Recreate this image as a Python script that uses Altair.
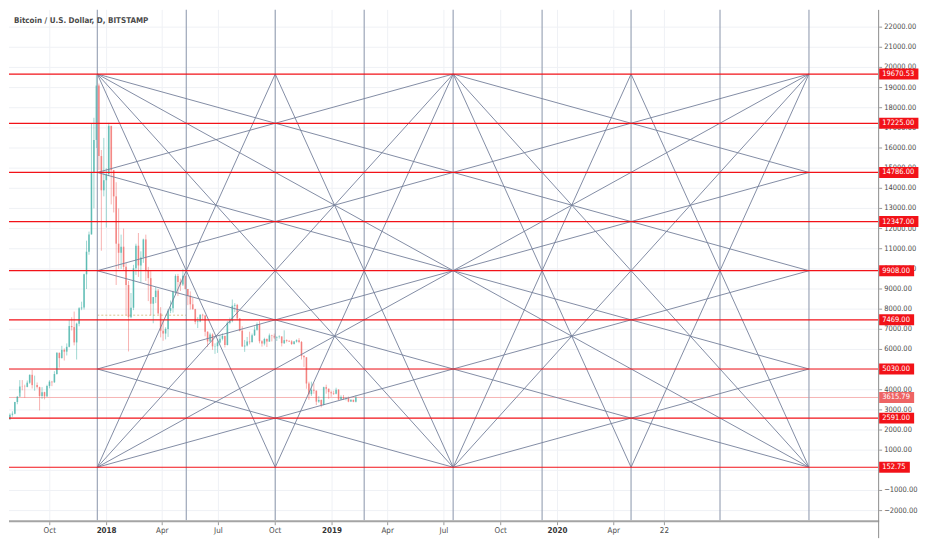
import altair as alt
import pandas as pd

# ---------------- data ----------------
title_text = "Bitcoin / U.S. Dollar, D, BITSTAMP"

# 4-day candles starting 2017-07-27 (open of first candle, then close/high/low per candle)
candle_start = "2017-07-27"
candle_days = 4
first_open = 2530
closes = [2760, 2810, 3390, 3650, 4160, 4150, 4140, 4350, 4740, 4230,
          4230, 4130, 3690, 3880, 3670, 4190, 4400, 4370, 4780, 5830,
          5570, 5980, 5890, 6130, 7160, 7110, 6350, 7280, 8040, 8080,
          9730, 10850, 11710, 14800, 16400, 19100, 15600, 13900, 14400, 14700,
          17100, 14900, 13600, 11250, 10800, 11100, 10100, 9200, 7600, 8070,
          10030, 11150, 10170, 10570, 11460, 9910, 9540, 8270, 8600, 8920,
          7790, 6930, 6790, 7020, 7920, 8050, 8860, 9650, 9350, 9220,
          9660, 9000, 8670, 8240, 8000, 7360, 7390, 7720, 7690, 6880,
          6400, 6740, 6150, 6160, 6350, 6530, 6670, 6220, 7320, 7410,
          8170, 8210, 7540, 6930, 6150, 6190, 6390, 6360, 6700, 6980,
          7260, 6410, 6290, 6520, 6390, 6700, 6680, 6590, 6620, 6640,
          6310, 6460, 6420, 6400, 6270, 6390, 6460, 6370, 5680, 5610,
          4310, 3780, 4000, 3950, 3410, 3490, 3240, 4130, 4050, 3880,
          3830, 3800, 4000, 3510, 3640, 3560, 3580, 3410, 3500, 3400,
          3615.79]
highs = [2830, 2930, 3400, 3690, 4480, 4480, 4250, 4460, 4760, 4980,
         4700, 4360, 4150, 4130, 3900, 4250, 4470, 4440, 4920, 5860,
         5850, 6180, 6050, 6300, 7460, 7600, 7880, 7330, 8100, 8370,
         9760, 11400, 11850, 17200, 17500, 19666, 19200, 15900, 16500, 15000,
         17250, 17100, 14900, 14300, 13000, 11700, 12000, 10300, 9400, 8800,
         10200, 11250, 11780, 10870, 11500, 11700, 10100, 9900, 8600, 9100,
         9000, 8100, 7500, 7100, 8000, 8430, 8920, 9730, 9750, 9520,
         9990, 9650, 9000, 8880, 8580, 8020, 7600, 7750, 7770, 7700,
         6900, 6830, 6800, 6300, 6520, 6700, 6800, 6690, 7400, 7580,
         8480, 8300, 8260, 7560, 7150, 6470, 6620, 6880, 6790, 7140,
         7340, 7410, 6460, 6580, 6550, 6790, 6730, 6790, 6650, 6700,
         6660, 6950, 6500, 6470, 6460, 6420, 6500, 6560, 6420, 5720,
         5620, 4400, 4400, 4320, 3970, 3680, 3520, 4150, 4250, 4060,
         3960, 3950, 4100, 4030, 3720, 3740, 3640, 3660, 3520, 3510,
         3720]
lows = [2500, 2660, 2780, 3280, 3850, 3970, 3600, 4120, 4290, 4060,
        3950, 4060, 2975, 3550, 3520, 3660, 4070, 4180, 4340, 4750,
        5100, 5550, 5450, 5700, 6100, 6940, 6200, 5500, 7150, 7950,
        7980, 9000, 10700, 11700, 13000, 16000, 14900, 10900, 13600, 12050,
        14600, 13200, 12800, 9200, 10000, 10000, 9950, 7700, 5900, 7550,
        7950, 9700, 9600, 9350, 10300, 9400, 8400, 7700, 7300, 8300,
        7730, 6600, 6430, 6500, 6620, 7800, 7830, 8750, 8650, 8900,
        9150, 8980, 8200, 7980, 7970, 7250, 7060, 7350, 7460, 6650,
        6130, 6380, 5980, 5780, 5830, 6300, 6450, 6100, 6200, 7250,
        7350, 7850, 7450, 6900, 6120, 5880, 6150, 6250, 6360, 6670,
        6930, 6300, 6140, 6200, 6120, 6380, 6400, 6520, 6420, 6540,
        6150, 6270, 6350, 6370, 6220, 6240, 6340, 6310, 5500, 5130,
        4050, 3500, 3690, 3800, 3240, 3350, 3125, 3230, 3800, 3550,
        3650, 3740, 3770, 3490, 3500, 3500, 3470, 3380, 3390, 3380,
        3370]

# Gann grid: time columns and price rows
grid_dates = ["2017-12-17", "2018-05-10", "2018-10-01", "2019-02-22", "2019-07-16",
              "2019-12-07", "2020-04-29", "2020-09-20", "2021-02-11"]
level_values = [152.75, 2591, 5030, 7469, 9908, 12347, 14786, 17225, 19670.53]
level_labels = ["152.75", "2591.00", "5030.00", "7469.00", "9908.00",
                "12347.00", "14786.00", "17225.00", "19670.53"]
last_price = 3615.79
last_label = "3615.79"
dotted_level = 7700
dotted_span = [0, 1]  # grid column indices

# Gann diagonals (column_a, row_a, column_b, row_b)
gann_segments = [
    (0, 8, 2, 0), (2, 0, 4, 8), (4, 8, 6, 0), (6, 0, 8, 8),
    (0, 0, 2, 8), (2, 8, 4, 0), (4, 0, 6, 8), (6, 8, 8, 0),
    (0, 8, 4, 0), (0, 0, 4, 8), (4, 8, 8, 0), (4, 0, 8, 8),
    (0, 0, 8, 8), (0, 8, 8, 0),
    (0, 8, 8, 4), (0, 0, 8, 4), (0, 4, 8, 8), (0, 4, 8, 0),
    (0, 6, 8, 2), (0, 2, 8, 6),
    (4, 8, 0, 6), (4, 8, 8, 6), (4, 0, 0, 2), (4, 0, 8, 2),
]

x_tick_dates = ["2017-10-01", "2018-01-01", "2018-04-01", "2018-07-01", "2018-10-01",
                "2019-01-01", "2019-04-01", "2019-07-01", "2019-10-01", "2020-01-01",
                "2020-04-01", "2020-06-22"]
x_tick_labels = ["Oct", "2018", "Apr", "Jul", "Oct", "2019", "Apr", "Jul", "Oct", "2020",
                 "Apr", "22"]
x_tick_is_year = [False, True, False, False, False, True, False, False, False, True,
                  False, False]
y_ticks = list(range(-2000, 22001, 1000))
x_domain = ["2017-07-27", "2021-06-03"]
y_domain = [-2476, 22857]

# ---------------- styling ----------------
W, H = 872, 512
FONT = "Liberation Sans Narrow, DejaVu Sans Condensed, Liberation Sans, sans-serif"
UP, DOWN = "#26a69a", "#ef5350"
RED, LIGHT_RED = "#f21218", "#ee6464"
GANN = "#74809a"
VLINE = "#9ca6b8"
TXT = "#4a4a4a"
GRID = "#eff1f5"


def dt(s):
    t = pd.Timestamp(s)
    return alt.DateTime(year=t.year, month=t.month, date=t.day, utc=True)


def iso(ts):
    return ts.strftime("%Y-%m-%dT%H:%M:%SZ")


xs = alt.Scale(type="utc", domain=[dt(x_domain[0]), dt(x_domain[1])])
ys = alt.Scale(domain=y_domain, nice=False, zero=False)


def X(field):
    return alt.X(field, scale=xs, axis=None)


def Y(field):
    return alt.Y(field, scale=ys, axis=None)


# ---------------- tables ----------------
start = pd.Timestamp(candle_start)
opens = [first_open] + closes[:-1]
candles = pd.DataFrame({
    "date": [iso(start + pd.Timedelta(days=candle_days * i + candle_days / 2 - 0.5))
             for i in range(len(closes))],
    "open": opens, "high": highs, "low": lows, "close": closes,
})

vlines = pd.DataFrame({"date": grid_dates})
levels = pd.DataFrame({"level": level_values})
gann = pd.DataFrame([
    {"x": grid_dates[a], "y": level_values[b], "x2": grid_dates[c], "y2": level_values[d]}
    for a, b, c, d in gann_segments
])
tags = pd.DataFrame({
    "level": level_values + [last_price],
    "label": level_labels + [last_label],
    "kind": ["level"] * len(level_values) + ["last"],
})
dotted = pd.DataFrame({"x": [grid_dates[dotted_span[0]]], "x2": [grid_dates[dotted_span[1]]],
                       "y": [dotted_level]})
lastline = pd.DataFrame({"level": [last_price]})
title_df = pd.DataFrame({"t": [title_text]})
xt = pd.DataFrame({"date": x_tick_dates, "label": x_tick_labels, "year": x_tick_is_year})
yt = pd.DataFrame({"v": y_ticks})
one = pd.DataFrame({"k": [0]})

# ---------------- axes drawn as marks ----------------
x_grid = alt.Chart(xt).mark_rule(color=GRID, strokeWidth=1).encode(x=X("date:T"))
y_grid = alt.Chart(yt).mark_rule(color=GRID, strokeWidth=1).encode(y=Y("v:Q"))

x_domain_line = alt.Chart(one).mark_rule(color="#a4a4a4", strokeWidth=2).encode(
    x=alt.value(0), x2=alt.value(W + 1), y=alt.value(H + 1))
y_domain_line = alt.Chart(one).mark_rule(color="#8c8c8c", strokeWidth=1).encode(
    x=alt.value(W + 0.5), y=alt.value(0), y2=alt.value(H + 18))

x_ticks = alt.Chart(xt).mark_rule(color="#9a9a9a", strokeWidth=1).encode(
    x=X("date:T"), y=alt.value(H + 2), y2=alt.value(H + 5))
y_ticks_m = alt.Chart(yt).mark_rule(color="#9a9a9a", strokeWidth=1).encode(
    x=alt.value(W + 1), x2=alt.value(W + 4), y=Y("v:Q"))

x_labels_norm = alt.Chart(xt).transform_filter("!datum.year").mark_text(
    align="center", baseline="middle", font=FONT, fontSize=8, color=TXT).encode(
    x=X("date:T"), y=alt.value(H + 11), text="label:N")
x_labels_year = alt.Chart(xt).transform_filter("datum.year").mark_text(
    align="center", baseline="middle", font=FONT, fontSize=8, fontWeight="bold",
    color="#333333").encode(
    x=X("date:T"), y=alt.value(H + 11), text="label:N")

y_labels = alt.Chart(yt).transform_calculate(
    label="format(datum.v, '.2f')"
).mark_text(align="left", baseline="middle", font=FONT, fontSize=7.5, color=TXT).encode(
    x=alt.value(W + 6), y=Y("v:Q"), text="label:N")

# ---------------- chart content ----------------
candle_color = alt.condition("datum.open <= datum.close", alt.value(UP), alt.value(DOWN))

last_line = alt.Chart(lastline).mark_rule(color="#f6b4b4", strokeWidth=1).encode(y=Y("level:Q"))

dotted_line = alt.Chart(dotted).mark_rule(color="#d8c48e", strokeWidth=1, strokeDash=[2, 2]).encode(
    x=X("x:T"), x2="x2:T", y=Y("y:Q"))

wicks = alt.Chart(candles).mark_rule(strokeWidth=0.8, opacity=0.55).encode(
    x=X("date:T"), y=Y("low:Q"), y2="high:Q", color=candle_color)

bodies = alt.Chart(candles).mark_rule(strokeWidth=1.7, opacity=0.55).encode(
    x=X("date:T"), y=Y("open:Q"), y2="close:Q", color=candle_color)

vertical = alt.Chart(vlines).mark_rule(color=VLINE, strokeWidth=1.2).encode(
    x=X("date:T"), y=alt.value(0), y2=alt.value(H))

gann_lines = alt.Chart(gann).mark_rule(color=GANN, strokeWidth=0.9).encode(
    x=X("x:T"), x2="x2:T", y=Y("y:Q"), y2="y2:Q")

red_lines = alt.Chart(levels).mark_rule(color=RED, strokeWidth=1.2).encode(
    x=alt.value(0), x2=alt.value(W), y=Y("level:Q"))

boxes = alt.Chart(tags).transform_calculate(
    bx=f"{W + 1}",
    bx2=f"{W + 1} + length(datum.label) * 4.3 + 5",
).mark_rule(strokeWidth=11, strokeCap="butt", opacity=1).encode(
    x=alt.X("bx:Q", scale=None, axis=None), x2="bx2:Q",
    y=Y("level:Q"),
    color=alt.Color("kind:N", scale=alt.Scale(domain=["level", "last"], range=[RED, LIGHT_RED]),
                    legend=None))

box_text = alt.Chart(tags).mark_text(align="left", baseline="middle", font=FONT,
                                     fontSize=7.5, color="white").encode(
    x=alt.value(W + 4), y=Y("level:Q"), text="label:N")

title = alt.Chart(title_df).mark_text(align="left", baseline="middle", font=FONT,
                                      fontSize=8, fontWeight="bold", color=TXT).encode(
    x=alt.value(5), y=alt.value(11), text="t:N")

chart = alt.layer(
    x_grid, y_grid, last_line, dotted_line, wicks, bodies, vertical, gann_lines, red_lines,
    x_domain_line, y_domain_line, x_ticks, y_ticks_m, x_labels_norm, x_labels_year, y_labels,
    boxes, box_text, title
).properties(
    width=W, height=H,
    padding={"left": 0, "right": 0, "top": 0, "bottom": 0},
    background="white",
).configure_view(strokeWidth=0)

chart.save("out.html", embed_options={"renderer": "svg", "actions": False})
